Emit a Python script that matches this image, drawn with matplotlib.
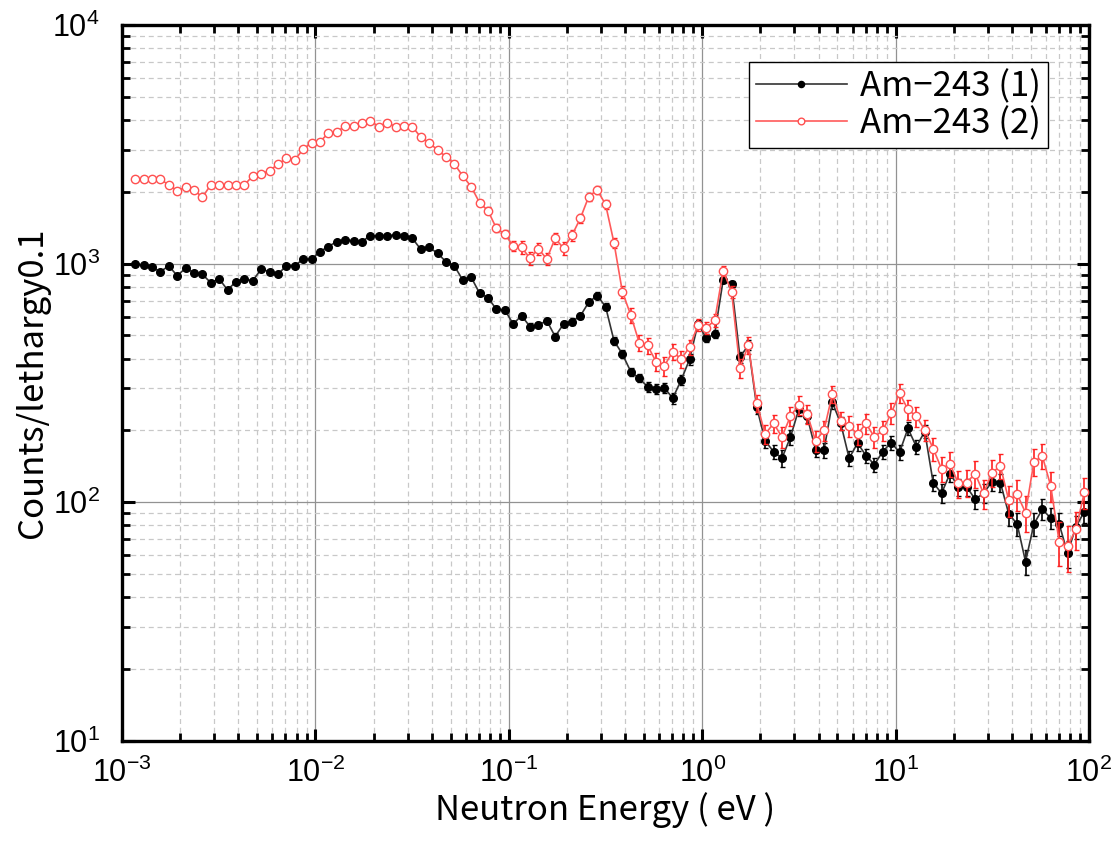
import numpy as np
import matplotlib.pyplot as plt
from matplotlib.ticker import LogLocator, NullFormatter

# bin centres: lethargy step 0.1 starting at 1.17e-3 eV (114 bins)
E0 = 1.17e-3
D_LETHARGY = 0.1
N_BINS = 114
energy = E0 * np.exp(D_LETHARGY * np.arange(N_BINS))

am243_1 = [
    997, 987, 965, 926, 978, 891, 956, 917, 902, 832,
    863, 776, 841, 860, 849, 947, 926, 902, 981, 981,
    1043, 1043, 1123, 1179, 1237, 1257, 1249, 1237, 1311, 1311,
    1311, 1319, 1306, 1277, 1148, 1171, 1105, 1019, 978, 854,
    877, 752, 720, 644, 640, 559, 605, 545, 553, 577,
    495, 559, 572, 604, 689, 735, 661, 476, 418, 353,
    331, 305, 298, 302, 273, 325, 397, 560, 487, 508,
    854, 820, 405, 456, 250, 181, 163, 153, 187, 245,
    229, 166, 165, 262, 214, 153, 177, 157, 144, 163,
    178, 162, 204, 171, 198, 121, 109, 132, 116, 116,
    103, 109, 122, 121, 89.4, 81.2, 56.4, 81.2, 93.5, 85.8,
    81.2, 61.2, 79.1, 91.4,
]

am243_2 = [
    2258, 2258, 2258, 2258, 2137, 2023, 2089, 2037, 1897, 2137,
    2137, 2137, 2137, 2137, 2330, 2376, 2455, 2609, 2764, 2719,
    3015, 3215, 3245, 3518, 3552, 3786, 3786, 3873, 3972, 3750,
    3898, 3750, 3786, 3750, 3384, 3215, 2990, 2809, 2617, 2330,
    2102, 1801, 1667, 1407, 1332, 1186, 1171, 1053, 1155, 1046,
    1277, 1159, 1314, 1549, 1909, 2035, 1772, 1225, 763, 609,
    467, 454, 389, 373, 428, 398, 447, 553, 538, 579,
    935, 763, 364, 456, 260, 193, 214, 188, 229, 256,
    235, 181, 200, 284, 220, 209, 193, 214, 188, 200,
    236, 286, 245, 229, 201, 168, 138, 145, 120, 121,
    132, 109, 133, 142, 102, 108, 90.5, 148, 156, 117,
    68.5, 65.3, 77.2, 110,
]

# relative errors in percent
am243_1_err = [
    1.5, 1.5, 1.5, 1.5, 1.5, 1.5, 1.5, 1.5, 1.5, 1.5,
    1.5, 1.5, 1.5, 1.5, 1.5, 1.5, 1.5, 1.5, 1.5, 1.5,
    1.5, 1.5, 1.5, 1.5, 1.5, 1.5, 1.5, 1.5, 1.5, 1.5,
    2, 2, 2, 2, 2, 2, 2, 2, 2, 2,
    2.5, 2.5, 3, 3, 3, 3, 3, 3, 3, 3,
    3, 3, 3, 3, 3, 3, 3, 4, 4, 4,
    4, 5, 5, 5, 5, 5, 5, 4, 4, 4,
    3, 3, 5, 5, 6, 7, 7, 8, 7, 6,
    6, 7, 7, 6, 6, 7, 7, 7, 7, 7,
    7, 7, 6, 7, 6, 8, 9, 8, 8, 8,
    9, 9, 9, 9, 11, 11, 12, 11, 10, 10,
    11, 13, 11, 10,
]

am243_2_err = [
    2, 2, 2, 2, 2, 2, 2, 2, 2, 2,
    2, 2, 2, 2, 2, 2, 2, 2, 2, 2,
    2, 2, 2, 2, 2, 2, 2, 2, 2, 2,
    2.5, 2.5, 2.5, 2.5, 2.5, 2.5, 2.5, 2.5, 2.5, 2.5,
    3, 3, 3.5, 4, 4, 5, 6, 6, 6, 6,
    5, 6, 5, 4, 4, 4, 4, 5, 6, 7,
    8, 8, 9, 9, 8, 8, 7, 6, 6, 6,
    5, 6, 9, 8, 8, 9, 9, 10, 9, 9,
    9, 10, 10, 8, 9, 10, 10, 10, 10, 10,
    10, 9, 10, 10, 10, 11, 12, 12, 13, 13,
    13, 14, 13, 12, 15, 15, 17, 13, 12, 14,
    21, 22, 18, 15,
]

labels = ["Am−243 (1)", "Am−243 (2)"]

cjk = ["Noto Sans CJK JP", "DejaVu Sans"]
plt.rcParams["font.family"] = ["Liberation Sans", "DejaVu Sans"]

fig = plt.figure(figsize=(11.18, 8.52), dpi=100)
ax = fig.add_axes([0.1091, 0.1303, 0.8650, 0.8404])

y1 = np.array(am243_1)
y2 = np.array(am243_2)
e1 = y1 * np.array(am243_1_err) / 100
e2 = y2 * np.array(am243_2_err) / 100

ax.errorbar(energy, y1, yerr=e1, fmt="none", ecolor="black",
            elinewidth=1.2, capsize=1.8, capthick=1.0, zorder=3)
ax.plot(energy, y1, "-o", color="#333333", lw=1.2, ms=5.5,
        mfc="black", mec="black", label=labels[0], zorder=4)

ax.errorbar(energy, y2, yerr=e2, fmt="none", ecolor="#ff2020",
            elinewidth=1.2, capsize=1.8, capthick=1.0, zorder=5)
ax.plot(energy, y2, "-o", color="#ff5a5a", lw=1.2, ms=6,
        mfc="white", mec="#ff5050", mew=1.0, label=labels[1], zorder=6)

ax.set_xscale("log")
ax.set_yscale("log")
ax.set_xlim(1e-3, 1e2)
ax.set_ylim(1e1, 1e4)

ax.xaxis.set_major_locator(LogLocator(base=10, numticks=10))
ax.xaxis.set_minor_locator(LogLocator(base=10, subs=np.arange(2, 10), numticks=20))
ax.yaxis.set_minor_locator(LogLocator(base=10, subs=np.arange(2, 10), numticks=20))
ax.xaxis.set_minor_formatter(NullFormatter())
ax.yaxis.set_minor_formatter(NullFormatter())

ax.grid(which="major", color="#929292", lw=0.9, ls="-")
ax.grid(which="minor", color="#c8c8c8", lw=0.9, ls=(0, (4, 3)))
ax.set_axisbelow(True)

for s in ax.spines.values():
    s.set_linewidth(2.4)
ax.tick_params(which="both", direction="in", top=True, right=True,
               labelsize=22)
ax.tick_params(axis="x", which="major", pad=12)
ax.tick_params(axis="y", which="major", pad=16)
ax.tick_params(which="major", length=9, width=2.2)
ax.tick_params(which="minor", length=6, width=2.0)

ax.set_xlabel("Neutron Energy ( eV )", fontsize=25, family=cjk, labelpad=2)
ax.set_ylabel("Counts/lethargy0.1", fontsize=25, family=cjk, labelpad=2)

leg = ax.legend(loc="upper right", bbox_to_anchor=(0.958, 0.948),
                prop={"family": cjk, "size": 25}, fancybox=False,
                framealpha=1, edgecolor="black", handlelength=2.6,
                handletextpad=0.4, borderpad=0.2, labelspacing=0.05,
                borderaxespad=0, markerscale=0.8)
leg.get_frame().set_linewidth(1.0)

fig.savefig("out.png", dpi=100)
plt.close(fig)
